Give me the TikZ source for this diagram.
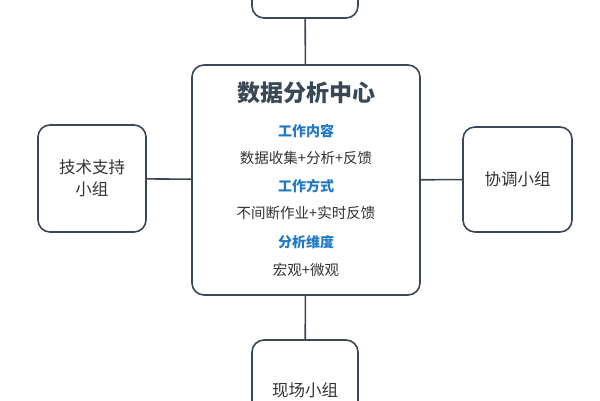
\documentclass[tikz,border=0pt]{standalone}
\usepackage{fontspec}
\setmainfont{Noto Sans CJK SC}
\definecolor{edge}{HTML}{3A4756}
\definecolor{head}{HTML}{1F78C8}
\tikzset{
  box/.style={draw=edge, line width=1.6pt, rounded corners=12pt, fill=white},
  link/.style={draw=edge, line width=1.6pt},
  hd/.style={text=head, font=\bfseries\fontsize{14}{16}\selectfont},
  tx/.style={text=black!80, font=\fontsize{14.5}{16}\selectfont}
}
\begin{document}
\begin{tikzpicture}[x=1pt,y=-1pt]
	\useasboundingbox (0,0) rectangle (600,400);
	\begin{scope}
	\clip (0,0) rectangle (600,400);
	\node[box, minimum width=228pt, minimum height=230pt] (center) at (306,180) {};
	\node[box, minimum width=106pt, minimum height=60pt] (top) at (305,-12) {};
	\node[box, minimum width=108pt, minimum height=107pt, align=center, tx, font=\fontsize{16.5}{22}\selectfont] (left) at (92,178.5) {技术支持\\小组};
	\node[box, minimum width=109pt, minimum height=105pt, tx, font=\fontsize{16.5}{18}\selectfont] (right) at (517.5,179.5) {协调小组};
	\node[box, minimum width=106pt, minimum height=90pt] (bottom) at (305,385) {};
	\node[tx, font=\fontsize{16.5}{18}\selectfont] at (305,390) {现场小组};
	\end{scope}
	\draw[link] (center) -- (top);
	\draw[link] (center) -- (bottom);
	\draw[link] (center) -- (left);
	\draw[link] (center) -- (right);
	\node[text=edge, font=\bfseries\fontsize{23}{26}\selectfont] (title) at (306,93) {数据分析中心};
	\node[hd] (h1) at (306,131) {工作内容};
	\node[tx] (t1) at (306,158) {数据收集+分析+反馈};
	\node[hd] (h2) at (306,186) {工作方式};
	\node[tx] (t2) at (306,213) {不间断作业+实时反馈};
	\node[hd] (h3) at (306,242) {分析维度};
	\node[tx] (t3) at (306,270) {宏观+微观};
\end{tikzpicture}
\end{document}
